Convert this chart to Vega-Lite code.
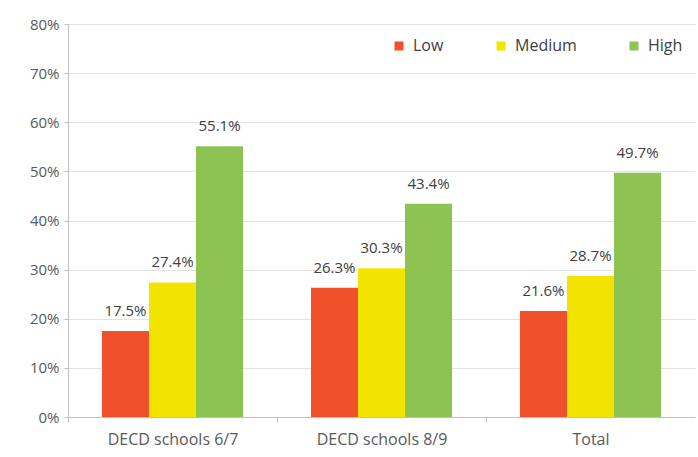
{
  "$schema": "https://vega.github.io/schema/vega-lite/v6.json",
  "width": 627,
  "height": 393,
  "autosize": {"type": "none"},
  "padding": {"left": 68, "top": 24, "right": 3, "bottom": 40},
  "background": "white",
  "config": {
    "font": "Open Sans",
    "view": {"stroke": null},
    "axis": {"labelFont": "Open Sans", "labelColor": "#595959", "domainColor": "#bfbfbf", "tickColor": "#bfbfbf", "gridColor": "#e3e3e3"},
    "legend": {"labelFont": "Open Sans"}
  },
  "data": {
    "values": [
      {"group": "DECD schools 6/7", "level": "Low", "share": 0.175},
      {"group": "DECD schools 6/7", "level": "Medium", "share": 0.274},
      {"group": "DECD schools 6/7", "level": "High", "share": 0.551},
      {"group": "DECD schools 8/9", "level": "Low", "share": 0.263},
      {"group": "DECD schools 8/9", "level": "Medium", "share": 0.303},
      {"group": "DECD schools 8/9", "level": "High", "share": 0.434},
      {"group": "Total", "level": "Low", "share": 0.216},
      {"group": "Total", "level": "Medium", "share": 0.287},
      {"group": "Total", "level": "High", "share": 0.497}
    ]
  },
  "encoding": {
    "x": {
      "field": "group",
      "type": "nominal",
      "sort": null,
      "title": null,
      "scale": {"paddingInner": 0.325, "paddingOuter": 0.1625},
      "axis": {"labelAngle": 0, "labelFontSize": 16, "labelPadding": 9, "tickSize": 5, "tickOffset": -104.5, "labelOffset": 104.5, "grid": false}
    },
    "xOffset": {"field": "level", "type": "nominal", "sort": ["Low", "Medium", "High"]},
    "y": {
      "field": "share",
      "type": "quantitative",
      "title": null,
      "scale": {"domain": [0, 0.8], "nice": false},
      "axis": {"format": ".0%", "values": [0, 0.1, 0.2, 0.3, 0.4, 0.5, 0.6, 0.7, 0.8], "labelFontSize": 15, "tickSize": 4, "labelPadding": 5, "grid": true}
    }
  },
  "layer": [
    {
      "mark": {"type": "bar"},
      "encoding": {
        "color": {
          "field": "level",
          "type": "nominal",
          "sort": ["Low", "Medium", "High"],
          "scale": {"domain": ["Low", "Medium", "High"], "range": ["#f0502a", "#f3e400", "#8dc350"]},
          "legend": {
            "title": null,
            "orient": "none",
            "legendX": 323,
            "legendY": 14,
            "direction": "horizontal",
            "symbolType": "square",
            "symbolSize": 81,
            "symbolStrokeWidth": 0,
            "labelFontSize": 16,
            "labelColor": "#404040",
            "labelOffset": 6,
            "columnPadding": 49
          }
        }
      }
    },
    {
      "mark": {"type": "text", "baseline": "bottom", "dy": -12, "fontSize": 15, "color": "#404040"},
      "encoding": {
        "text": {"field": "share", "type": "quantitative", "format": ".1%"}
      }
    }
  ]
}
